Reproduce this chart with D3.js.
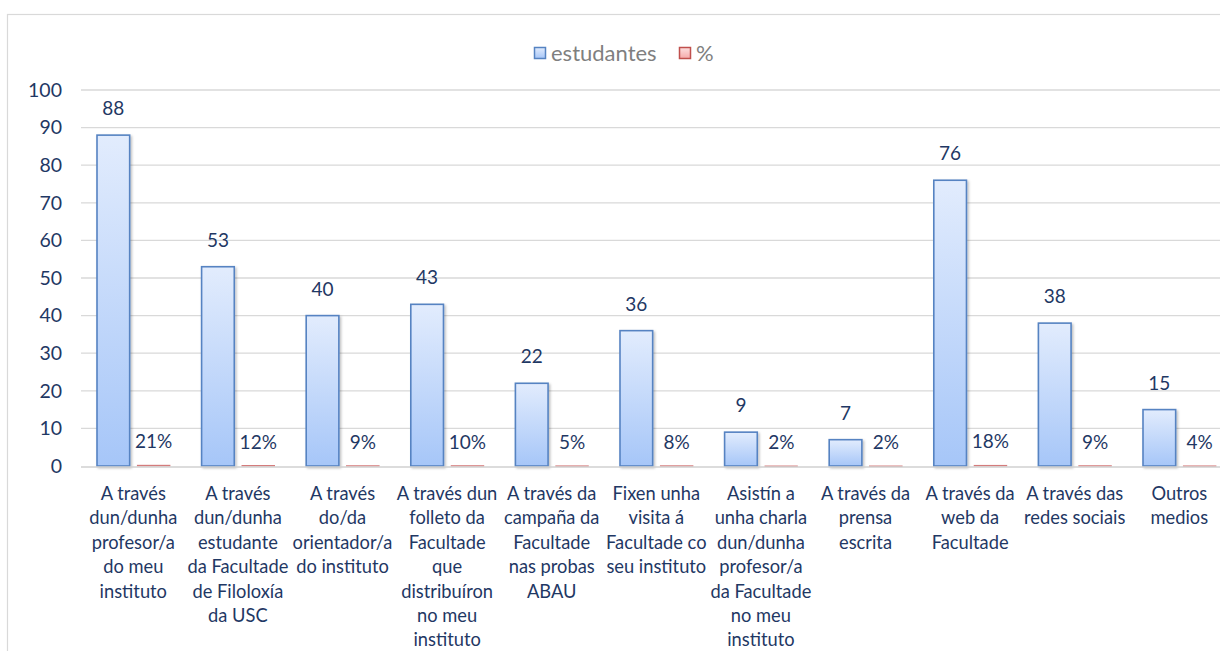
<!DOCTYPE html>
<html><head><meta charset="utf-8">
<script src="https://cdn.jsdelivr.net/npm/d3@7/dist/d3.min.js"></script>
<style>
html,body{margin:0;padding:0;background:#fff;}
svg{display:block;font-family:Lato,"Noto Sans",sans-serif;}
</style></head>
<body>
<svg id="c" width="1220" height="651"></svg>
<script>
const categories = [
  ["A través","dun/dunha","profesor/a","do meu","instituto"],
  ["A través","dun/dunha","estudante","da Facultade","de Filoloxía","da USC"],
  ["A través","do/da","orientador/a","do instituto"],
  ["A través dun","folleto da","Facultade","que","distribuíron","no meu","instituto"],
  ["A través da","campaña da","Facultade","nas probas","ABAU"],
  ["Fixen unha","visita á","Facultade co","seu instituto"],
  ["Asistín a","unha charla","dun/dunha","profesor/a","da Facultade","no meu","instituto"],
  ["A través da","prensa","escrita"],
  ["A través da","web da","Facultade"],
  ["A través das","redes sociais"],
  ["Outros","medios"]
];
const estudantes = [88, 53, 40, 43, 22, 36, 9, 7, 76, 38, 15];
const percent = [0.21, 0.12, 0.09, 0.10, 0.05, 0.08, 0.02, 0.02, 0.18, 0.09, 0.04];
const seriesNames = ["estudantes", "%"];
const yTicks = [0, 10, 20, 30, 40, 50, 60, 70, 80, 90, 100];

const svg = d3.select("#c");
const defs = svg.append("defs");
const gb = defs.append("linearGradient").attr("id","gBlue").attr("x1",0).attr("y1",0).attr("x2",0).attr("y2",1);
gb.append("stop").attr("offset","0%").attr("stop-color","#e2ecfd");
gb.append("stop").attr("offset","100%").attr("stop-color","#a6c6f8");
const gr = defs.append("linearGradient").attr("id","gRed").attr("x1",0).attr("y1",0).attr("x2",0).attr("y2",1);
gr.append("stop").attr("offset","0%").attr("stop-color","#fde0e0");
gr.append("stop").attr("offset","100%").attr("stop-color","#f5a9a9");
const sh = defs.append("filter").attr("id","shadow").attr("x","-20%").attr("y","-10%").attr("width","150%").attr("height","130%");
sh.append("feDropShadow").attr("dx",1.5).attr("dy",1.5).attr("stdDeviation",1.2).attr("flood-color","#000").attr("flood-opacity",0.25);

// chart border
svg.append("rect").attr("x",7.5).attr("y",14.5).attr("width",1240).attr("height",660)
  .attr("fill","none").attr("stroke","#d9d9d9").attr("stroke-width",1.2);

const left = 81, band = 104.6;
const x = d3.scaleBand().domain(d3.range(categories.length)).range([left, left + band*categories.length]).padding(0);
const x1 = d3.scaleBand().domain(seriesNames).range([16, 89]).paddingInner(0.19);
const y = d3.scaleLinear().domain([0,100]).range([466, 90]);

// gridlines
svg.append("g").selectAll("line").data(yTicks.filter(d=>d>0)).join("line")
  .attr("x1",left).attr("x2",1220).attr("y1",d=>y(d)).attr("y2",d=>y(d))
  .attr("stroke","#d9d9d9").attr("stroke-width",1.3);

// y axis
const yAxis = svg.append("g").attr("transform",`translate(${left},0)`)
  .call(d3.axisLeft(y).tickValues(yTicks).tickSize(0).tickPadding(19));
yAxis.select(".domain").remove();
yAxis.selectAll("text").attr("fill","#1f3864").attr("font-size",19.5).attr("font-family","Lato,'Noto Sans',sans-serif");

const navy = "#1f3864";
const groups = svg.append("g").selectAll("g").data(categories).join("g")
  .attr("transform",(d,i)=>`translate(${x(i)},0)`);

// blue bars
groups.append("rect")
  .attr("x",x1("estudantes")).attr("width",x1.bandwidth())
  .attr("y",(d,i)=>y(estudantes[i])).attr("height",(d,i)=>y(0)-y(estudantes[i]))
  .attr("fill","url(#gBlue)").attr("stroke","#5683c2").attr("stroke-width",1.6)
  .attr("filter","url(#shadow)");
// red bars
groups.append("rect")
  .attr("x",x1("%")).attr("width",x1.bandwidth())
  .attr("y",(d,i)=>y(percent[i])).attr("height",(d,i)=>Math.max(0.5,y(0)-y(percent[i])))
  .attr("fill","url(#gRed)").attr("stroke","#d47c7c").attr("stroke-width",0.8);

// baseline
svg.append("line").attr("x1",left).attr("x2",1220).attr("y1",y(0)+1).attr("y2",y(0)+1)
  .attr("stroke","#d0d0d0").attr("stroke-width",1.6);

// data labels
groups.append("text")
  .attr("x",x1("estudantes")+x1.bandwidth()/2).attr("y",(d,i)=>y(estudantes[i])-20)
  .attr("text-anchor","middle").attr("font-size",19).attr("fill",navy)
  .text((d,i)=>estudantes[i]);
groups.append("text")
  .attr("x",x1("%")+x1.bandwidth()/2).attr("y",(d,i)=>y(percent[i])-17)
  .attr("text-anchor","middle").attr("font-size",19).attr("fill",navy)
  .text((d,i)=>d3.format(".0%")(percent[i]));

// category labels
groups.append("text").attr("text-anchor","middle").attr("font-size",18.3).attr("fill",navy)
  .each(function(lines){
    const t = d3.select(this);
    lines.forEach((ln,k)=>{
      t.append("tspan").attr("x",band/2).attr("y",500 + k*24.4).text(ln);
    });
  });

// legend
const lg = svg.append("g");
const legendItems = [
  {name:"estudantes", fill:"url(#gBlue)", stroke:"#5683c2", x:534},
  {name:"%", fill:"url(#gRed)", stroke:"#c0504d", x:679}
];
legendItems.forEach(it=>{
  lg.append("rect").attr("x",it.x+0.5).attr("y",47.5).attr("width",11).attr("height",11)
    .attr("fill",it.fill).attr("stroke",it.stroke).attr("stroke-width",1.5);
  lg.append("text").attr("x",it.x+17).attr("y",61).attr("font-size",22).attr("fill","#7f7f7f").text(it.name);
});
</script>
</body></html>
